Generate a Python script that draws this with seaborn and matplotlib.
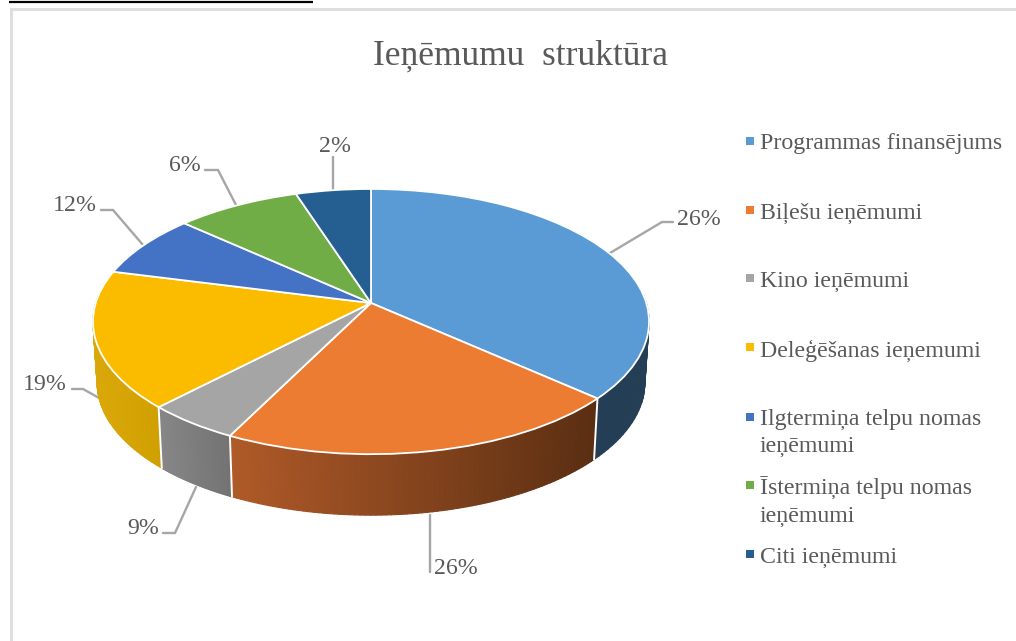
import numpy as np
import matplotlib
matplotlib.use("Agg")
import matplotlib.pyplot as plt
from matplotlib.collections import PolyCollection
from matplotlib.transforms import Transform
import seaborn as sns

# ---- data ----
TITLE = "Ieņēmumu  struktūra"
categories = ["Programmas finansējums", "Biļešu ieņēmumi", "Kino ieņēmumi",
              "Deleģēšanas ieņemumi", "Ilgtermiņa telpu nomas\nieņēmumi",
              "Īstermiņa telpu nomas\nieņēmumi", "Citi ieņēmumi"]
slice_shares = [36.6, 20.8, 4.8, 16.8, 7.7, 8.3, 5.0]   # drawn slice sizes
printed_labels = ["26%", "26%", "9%", "19%", "12%", "6%", "2%"]  # printed labels
top_colors = ["#5B9BD5", "#EB7C31", "#A5A5A5", "#FBBC00", "#4472C4", "#70AD47", "#255E91"]
side_left = ["#233E55", "#B05A28", "#878787", "#DBA80A", "#2A4478", "#43682B", "#163858"]
side_right = ["#233E55", "#5A2E12", "#737373", "#D0A000", "#2A4478", "#43682B", "#163858"]

# ---- layout (pixels of the 1016x641 canvas) ----
CX, CY, RX, RY, TILT = 371.0, 303.0, 275.3, 130.0, 0.14
DEPTH, RIM_SHRINK = 61.0, 0.985
label_xy = [(677, 219.5, "left"), (434, 568.5, "left"), (159, 528.5, "right"), (67, 384, "right"),
            (97, 205.5, "right"), (201, 165.5, "right"), (335, 147, "center")]
leaders = [[(610, 253), (662, 222), (673, 222)],
           [(430, 515), (430, 572)],
           [(196, 487), (175, 533), (163, 533)],
           [(101, 399), (83, 389), (72, 389)],
           [(143, 245), (113, 210), (101, 210)],
           [(236, 205), (218, 170), (205, 170)],
           [(333, 190), (333, 157)]]
legend_swatch_x = 750
legend_text_x = 760
legend_y = [141, 210, 278, 347, 417, 485, 554]
legend_text_y = [143.5, 213.5, 281.5, 350.5, 433, 501.5, 557.5]
TEXT = "#595959"
LEAD = "#A6A6A6"
FONT = "Liberation Serif"
FS = 17.2


class Tilt(Transform):
    """Perspective view of the unit-circle pie, in canvas pixels."""
    input_dims = output_dims = 2
    is_separable = False
    has_inverse = False

    def transform_non_affine(self, values):
        v = np.asarray(values, dtype=float)
        w = 1 + TILT * v[:, 1]
        return np.column_stack([CX + RX * v[:, 0] / w, CY - RY * v[:, 1] / w])


sns.set_theme(style="white")
plt.rcParams["font.family"] = [FONT, "DejaVu Sans"]

fig = plt.figure(figsize=(10.16, 6.41), dpi=100, facecolor="white")
ax = fig.add_axes([0, 0, 1, 1])
tilt = Tilt()

# pie top surface
wedges, _ = ax.pie(slice_shares, colors=sns.color_palette(top_colors), startangle=90,
                   counterclock=False, radius=1,
                   wedgeprops=dict(edgecolor="white", linewidth=1.3, zorder=5))
for w in wedges:
    w.set_transform(tilt + ax.transData)

ax.set_aspect("auto")
ax.set_xlim(0, 1016)
ax.set_ylim(641, 0)
ax.set_axis_off()


def rim(theta):
    """Top and bottom rim points for clockwise-from-top angles."""
    unit = np.column_stack([np.sin(theta), np.cos(theta)])
    top = tilt.transform(unit)
    bottom = top.copy()
    bottom[:, 0] = CX + (top[:, 0] - CX) * RIM_SHRINK
    bottom[:, 1] += DEPTH
    return top, bottom


# extruded side wall, from the same shares
edges = np.cumsum([0] + slice_shares) / sum(slice_shares) * 2 * np.pi
polys, fills = [], []
for i in range(len(slice_shares)):
    th = np.linspace(edges[i], edges[i + 1], 80)
    top, bottom = rim(th)
    xl, xr = top[:, 0].min(), top[:, 0].max()
    c_l = np.array(matplotlib.colors.to_rgb(side_left[i]))
    c_r = np.array(matplotlib.colors.to_rgb(side_right[i]))
    for j in range(len(th) - 1):
        if np.cos(th[j]) > 0.05 and np.cos(th[j + 1]) > 0.05:
            continue
        polys.append([top[j], top[j + 1], bottom[j + 1], bottom[j]])
        f = (0.5 * (top[j, 0] + top[j + 1, 0]) - xl) / max(xr - xl, 1)
        fills.append((np.cos(0.5 * (th[j] + th[j + 1])), c_l + (c_r - c_l) * f))
order = np.argsort([-f[0] for f in fills])
ax.add_collection(PolyCollection([polys[k] for k in order],
                                 facecolors=[fills[k][1] for k in order],
                                 edgecolors=[fills[k][1] for k in order],
                                 linewidths=0.8, zorder=3))
# white seams between wall segments
for e in edges[1:4]:
    top, bottom = rim(np.array([e]))
    ax.plot([top[0, 0], bottom[0, 0]], [top[0, 1], bottom[0, 1]], color="white", lw=1.4, zorder=4)

# leader lines and percentage labels
for pts in leaders:
    xs, ys = zip(*pts)
    ax.plot(xs, ys, color=LEAD, lw=1.7, zorder=2, solid_joinstyle="miter")
for txt, (x, y, ha) in zip(printed_labels, label_xy):
    ax.text(x, y, txt, ha=ha, va="center", fontsize=FS, color=TEXT, zorder=6)

# title
ax.text(520.5, 56, TITLE, ha="center", va="center", fontsize=25.6, color=TEXT)

# legend column
sns.scatterplot(x=[legend_swatch_x] * len(categories), y=legend_y, hue=categories,
                palette=dict(zip(categories, top_colors)), marker="s", s=27,
                linewidth=0, legend=False, ax=ax, zorder=6)
for txt, y in zip(categories, legend_text_y):
    ax.text(legend_text_x, y, txt, ha="left", va="center", fontsize=FS, color=TEXT,
            linespacing=1.36)

# frame of the embedded picture
ax.plot([11, 11, 1016], [641, 8.5, 8.5], color="#DEDEDE", lw=2.2, solid_joinstyle="miter")
ax.plot([9, 313], [2, 2], color="black", lw=1.6, solid_capstyle="butt")

ax.set_xlim(0, 1016)
ax.set_ylim(641, 0)
fig.savefig("out.png", dpi=100, facecolor="white")
